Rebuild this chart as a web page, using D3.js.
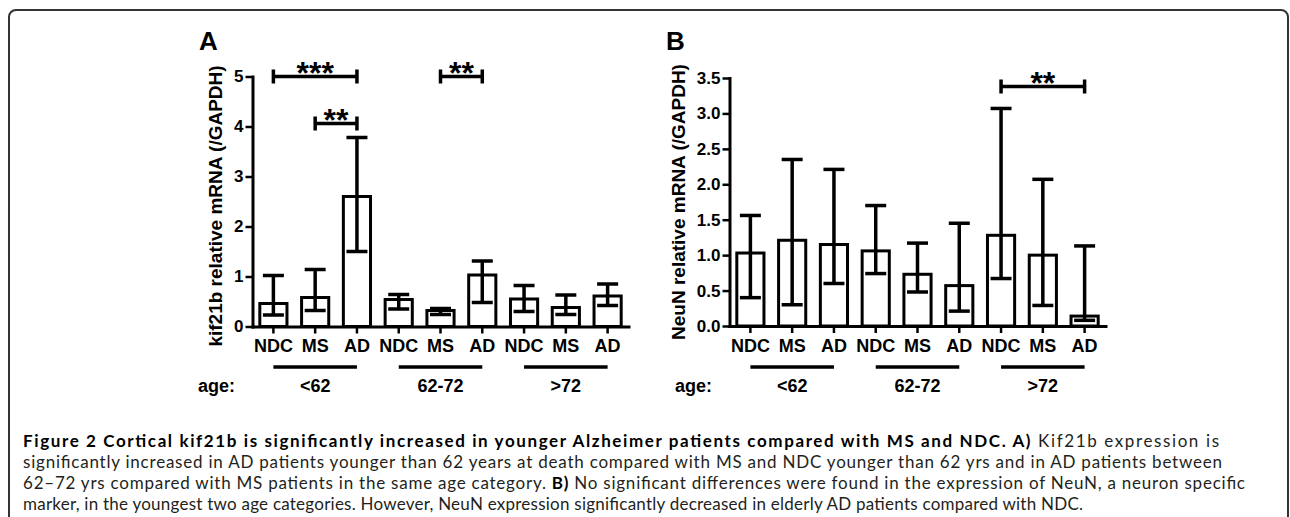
<!DOCTYPE html>
<html>
<head>
<meta charset="utf-8">
<script src="https://cdn.jsdelivr.net/npm/d3@7/dist/d3.min.js"></script>
<style>
  html, body { margin: 0; padding: 0; background: #fff; }
  svg { display: block; }
  .chart text { font-family: "Liberation Sans", Arial, sans-serif; font-weight: bold; fill: #000; }
  .caption { font-family: Lato, "Open Sans", sans-serif; font-size: 17px; fill: #231f20; }
</style>
</head>
<body>
<svg id="fig" width="1290" height="517"></svg>
<script>
// categories
const groups = ["<62", "62-72", ">72"];
const subgroups = ["NDC", "MS", "AD"];

// panel A: kif21b relative mRNA (/GAPDH)
const kifMean = [0.46, 0.58, 2.6, 0.54, 0.32, 1.03, 0.55, 0.38, 0.61];
const kifLow  = [0.23, 0.32, 1.5, 0.35, 0.24, 0.48, 0.30, 0.24, 0.42];
const kifHigh = [1.02, 1.14, 3.78, 0.64, 0.36, 1.31, 0.82, 0.63, 0.85];
const kifTicks = [0, 1, 2, 3, 4, 5];
const kifSig = [
  { from: 0, to: 2, y: 5, label: "***" },
  { from: 1, to: 2, y: 4.06, label: "**" },
  { from: 4, to: 5, y: 5, label: "**" },
];

// panel B: NeuN relative mRNA (/GAPDH)
const neuMean = [1.03, 1.21, 1.15, 1.06, 0.73, 0.57, 1.28, 1.0, 0.14];
const neuLow  = [0.40, 0.30, 0.60, 0.74, 0.48, 0.21, 0.67, 0.29, 0.08];
const neuHigh = [1.56, 2.35, 2.21, 1.70, 1.17, 1.45, 3.07, 2.07, 1.13];
const neuTicks = [0, 0.5, 1, 1.5, 2, 2.5, 3, 3.5];
const neuSig = [{ from: 6, to: 8, y: 3.38, label: "**" }];

const captionLines = [
  [["b", "Figure 2 Cortical kif21b is significantly increased in younger Alzheimer patients compared with MS and NDC. A)"], ["n", " Kif21b expression is"]],
  [["n", "significantly increased in AD patients younger than 62 years at death compared with MS and NDC younger than 62 yrs and in AD patients between"]],
  [["n", "62\u201372 yrs compared with MS patients in the same age category. "], ["b", "B)"], ["n", " No significant differences were found in the expression of NeuN, a neuron specific"]],
  [["n", "marker, in the youngest two age categories. However, NeuN expression significantly decreased in elderly AD patients compared with NDC."]],
];
const captionEnds = [1219, 1222, 1245, 1083];

const keys = [];
groups.forEach((g) => subgroups.forEach((s) => keys.push(g + "|" + s)));

const svg = d3.select("#fig");

// frame
svg.append("rect")
  .attr("x", 9).attr("y", 10).attr("width", 1279).attr("height", 600)
  .attr("rx", 7)
  .attr("fill", "none").attr("stroke", "#333").attr("stroke-width", 2);

function drawPanel(opts) {
  const g = svg.append("g").attr("class", "chart");
  const x = d3.scaleBand()
    .domain(keys)
    .range([opts.x0, opts.x0 + 376])
    .paddingInner(0.35)
    .paddingOuter(0.175);
  const y = d3.scaleLinear().domain(opts.domain).range([opts.y0, opts.yTop]);

  // y axis
  const ya = g.append("g")
    .attr("transform", "translate(" + opts.x0 + ",0)")
    .call(d3.axisLeft(y).tickValues(opts.ticks).tickSize(7).tickSizeOuter(0).tickPadding(2).tickFormat(d3.format(opts.fmt)));
  // x axis
  const xa = g.append("g")
    .attr("transform", "translate(0," + opts.y0 + ")")
    .call(d3.axisBottom(x).tickSize(7).tickSizeOuter(0).tickPadding(6).tickFormat((d) => d.split("|")[1]));
  [ya, xa].forEach((a) => {
    a.select(".domain").attr("stroke", "#000").attr("stroke-width", 3).attr("stroke-linecap", "square");
    a.selectAll(".tick line").attr("stroke", "#000").attr("stroke-width", 2.5);
    a.selectAll("text").attr("fill", "#000");
  });
  ya.selectAll("text").style("font-size", "17px");
  xa.selectAll("text").style("font-size", "18px");

  const data = keys.map((k, i) => ({ k: k, m: opts.mean[i], lo: opts.low[i], hi: opts.high[i] }));

  // bars
  g.selectAll(".bar").data(data).enter().append("rect")
    .attr("class", "bar")
    .attr("x", (d) => x(d.k))
    .attr("width", x.bandwidth())
    .attr("y", (d) => y(d.m))
    .attr("height", (d) => y(0) - y(d.m))
    .attr("fill", "#fff").attr("stroke", "#000").attr("stroke-width", 3);

  // error bars
  const cap = 10.5;
  const eb = g.selectAll(".err").data(data).enter().append("g").attr("class", "err")
    .attr("stroke", "#000").attr("stroke-width", 3.5);
  const cx = (d) => x(d.k) + x.bandwidth() / 2;
  eb.append("line").attr("x1", cx).attr("x2", cx).attr("y1", (d) => y(d.lo)).attr("y2", (d) => y(d.hi));
  eb.append("line").attr("x1", (d) => cx(d) - cap).attr("x2", (d) => cx(d) + cap).attr("y1", (d) => y(d.hi)).attr("y2", (d) => y(d.hi));
  eb.append("line").attr("x1", (d) => cx(d) - cap).attr("x2", (d) => cx(d) + cap).attr("y1", (d) => y(d.lo)).attr("y2", (d) => y(d.lo));

  // significance brackets
  opts.sig.forEach((s) => {
    const xa1 = x(keys[s.from]) + x.bandwidth() / 2;
    const xa2 = x(keys[s.to]) + x.bandwidth() / 2;
    const yy = y(s.y);
    const p = d3.path();
    p.moveTo(xa1, yy); p.lineTo(xa2, yy);
    p.moveTo(xa1, yy - 7); p.lineTo(xa1, yy + 7);
    p.moveTo(xa2, yy - 7); p.lineTo(xa2, yy + 7);
    g.append("path").attr("d", p.toString()).attr("fill", "none").attr("stroke", "#000").attr("stroke-width", 3.5);
    g.append("text")
      .attr("x", (xa1 + xa2) / 2).attr("y", yy + 7)
      .attr("text-anchor", "middle")
      .style("font-size", "32px")
      .text(s.label);
  });

  // age groups
  groups.forEach((gr) => {
    const a = x(gr + "|" + subgroups[0]) + x.bandwidth() / 2;
    const b = x(gr + "|" + subgroups[2]) + x.bandwidth() / 2;
    g.append("line").attr("x1", a).attr("x2", b).attr("y1", 367).attr("y2", 367)
      .attr("stroke", "#000").attr("stroke-width", 3.5);
    g.append("text").attr("x", (a + b) / 2).attr("y", 392).attr("text-anchor", "middle")
      .style("font-size", "18px").text(gr);
  });
  g.append("text").attr("x", opts.ageX).attr("y", 392).style("font-size", "18px").text("age:");

  // y label
  g.append("text")
    .attr("transform", "translate(" + opts.labelX + "," + opts.labelY + ") rotate(-90)")
    .attr("text-anchor", "middle")
    .attr("dy", "0.35em")
    .style("font-size", "19px")
    .text(opts.label);

  // panel letter
  g.append("text").attr("x", opts.letterX).attr("y", 50).style("font-size", "26px").text(opts.letter);
}

drawPanel({
  x0: 252.5, y0: 326.5, yTop: 76.5, domain: [0, 5], ticks: kifTicks, fmt: "d",
  mean: kifMean, low: kifLow, high: kifHigh, sig: kifSig,
  ageX: 198, labelX: 215, labelY: 206, label: "kif21b relative mRNA (/GAPDH)",
  letter: "A", letterX: 199,
});
drawPanel({
  x0: 729.5, y0: 326, yTop: 78, domain: [0, 3.5], ticks: neuTicks, fmt: ".1f",
  mean: neuMean, low: neuLow, high: neuHigh, sig: neuSig,
  ageX: 675, labelX: 678, labelY: 202, label: "NeuN relative mRNA (/GAPDH)",
  letter: "B", letterX: 666,
});

// caption
const capX = 23;
const cap = svg.append("g").attr("class", "caption");
captionLines.forEach((line, i) => {
  const t = cap.append("text")
    .attr("x", capX).attr("y", 447 + i * 21)
    .attr("textLength", captionEnds[i] - capX)
    .attr("lengthAdjust", "spacing");
  line.forEach((part) => {
    t.append("tspan")
      .attr("font-weight", part[0] === "b" ? "bold" : "normal")
      .attr("fill", part[0] === "b" ? "#000" : "#231f20")
      .text(part[1]);
  });
});
</script>
</body>
</html>
